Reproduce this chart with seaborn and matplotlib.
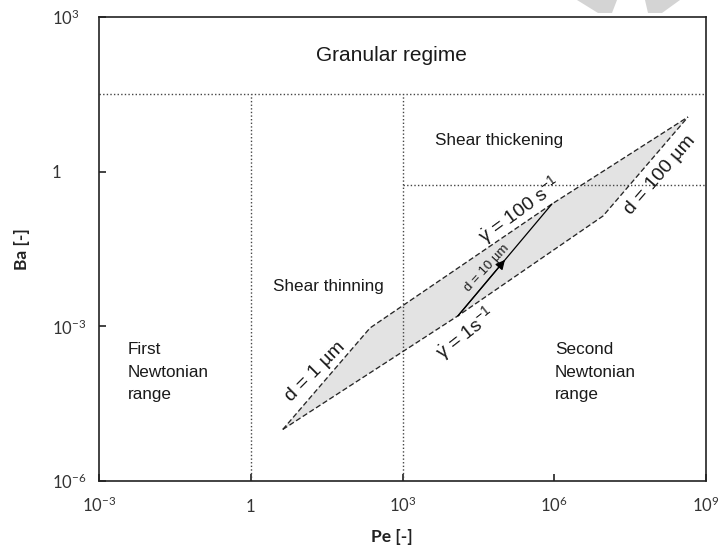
import matplotlib
matplotlib.use("Agg")
import matplotlib.pyplot as plt
from matplotlib.patches import Polygon
import numpy as np
import pandas as pd
import seaborn as sns

# ---- regime boundaries (Péclet number Pe, Bagnold number Ba) ----
pe_range = [1e-3, 1e9]
ba_range = [1e-6, 1e3]
ba_granular = 32.0          # upper limit of the suspension regimes
ba_thickening = 0.55        # onset of shear thickening
pe_first_newtonian = 1.0    # end of first Newtonian range
pe_thinning = 1e3           # end of shear thinning

# ---- process window: upper and lower envelopes ----
pe_upper = [4.3, 228.0, 9.0e5, 4.4e8]
ba_upper = [1.0e-5, 9.3e-4, 0.236, 11.5]
pe_lower = [4.3, 1.25e4, 9.2e6, 4.4e8]
ba_lower = [1.0e-5, 1.6e-3, 0.138, 11.5]

# d = 10 µm path from shear rate 1 s^-1 (lower envelope) to 100 s^-1 (upper envelope)
pe_d10 = [pe_lower[1], pe_upper[2]]
ba_d10 = [ba_lower[1], ba_upper[2]]

x_ticks = [1e-3, 1, 1e3, 1e6, 1e9]
x_tick_labels = ["10$^{-3}$", "1", "10$^{3}$", "10$^{6}$", "10$^{9}$"]
y_ticks = [1e-6, 1e-3, 1, 1e3]
y_tick_labels = ["10$^{-6}$", "10$^{-3}$", "1", "10$^{3}$"]

sns.set_theme(style="white")
plt.rcParams["font.family"] = ["Lato", "DejaVu Sans"]
plt.rcParams["mathtext.default"] = "regular"

W, H = 719, 548
fig = plt.figure(figsize=(W / 100, H / 100), dpi=100)
left, right, top, bottom = 99, 706, 17, 481
ax = fig.add_axes([left / W, 1 - bottom / H, (right - left) / W, (bottom - top) / H])
ax.set_xscale("log")
ax.set_yscale("log")
ax.set_xlim(pe_range)
ax.set_ylim(ba_range)

# shaded process window
poly_pe = pe_upper + pe_lower[::-1]
poly_ba = ba_upper + ba_lower[::-1]
ax.fill(poly_pe, poly_ba, facecolor="#e3e3e3", edgecolor="none", zorder=1)

edge_kw = dict(color="#262626", linewidth=0.95, dashes=(4, 2), estimator=None,
               sort=False, ax=ax, legend=False, zorder=3)
sns.lineplot(x=pe_upper, y=ba_upper, **edge_kw)
sns.lineplot(x=pe_lower, y=ba_lower, **edge_kw)

# regime boundaries (dotted)
dot_kw = dict(color="#444444", linewidth=1.0, linestyle=(0, (1, 1.6)), zorder=2)
ax.plot(pe_range, [ba_granular, ba_granular], **dot_kw)
ax.plot([pe_first_newtonian] * 2, [ba_range[0], ba_granular], **dot_kw)
ax.plot([pe_thinning] * 2, [ba_range[0], ba_granular], **dot_kw)
ax.plot([pe_thinning, pe_range[1]], [ba_thickening, ba_thickening], **dot_kw)

# d = 10 µm arrow with the head halfway along
ax.plot(pe_d10, ba_d10, color="black", linewidth=0.9, zorder=4)
pe_mid = np.sqrt(pe_d10[0] * pe_d10[1])
ba_mid = np.sqrt(ba_d10[0] * ba_d10[1])
ax.annotate("", xy=(pe_mid, ba_mid), xytext=(pe_d10[0], ba_d10[0]),
            arrowprops=dict(arrowstyle="-|>", color="black", lw=0.9,
                            mutation_scale=14, shrinkA=0, shrinkB=0), zorder=5)

# axes styling
for s in ax.spines.values():
    s.set_color("#222222")
    s.set_linewidth(1.2)
ax.minorticks_off()
ax.set_xticks(x_ticks)
ax.set_xticklabels(x_tick_labels)
ax.set_yticks(y_ticks)
ax.set_yticklabels(y_tick_labels)
ax.tick_params(axis="both", which="major", direction="in", length=5, width=1.2,
               colors="#222222", labelsize=12, labelcolor="#333333",
               bottom=True, left=True, top=False, right=False)
ax.tick_params(axis="x", pad=22)
ax.tick_params(axis="y", pad=34)
for lab in ax.get_xticklabels():
    lab.set_va("baseline")
for lab in ax.get_yticklabels():
    lab.set_ha("left")

ax.set_xlabel("Pe [-]", fontsize=12.5, fontweight="bold", color="#222222",
              va="center", ha="center")
ax.xaxis.set_label_coords((392 - left) / (right - left), -(537 - bottom) / (bottom - top))
ax.set_ylabel("Ba [-]", fontsize=12.5, fontweight="bold", color="#222222",
              va="center", ha="center")
ax.yaxis.set_label_coords((22 - left) / (right - left), 0.5)

# regime labels
arial = ["Liberation Sans", "DejaVu Sans"]
txt = dict(color="#1a1a1a", zorder=6)
region_kw = dict(family=arial, fontsize=12.3, ha="left", va="center", **txt)
ax.text(617, 183, "Granular regime", family=arial, fontsize=15, ha="center", va="center", **txt)
ax.text(4400, 4.1, "Shear thickening", **region_kw)
ax.text(2.75, 5.8e-3, "Shear thinning", **region_kw)
ax.text(3.7e-3, 1.3e-4, "First\nNewtonian\nrange", linespacing=1.62, **region_kw)
ax.text(1.04e6, 1.3e-4, "Second\nNewtonian\nrange", linespacing=1.62, **region_kw)

# envelope labels
rot = dict(ha="center", va="center", rotation_mode="anchor", family=arial, **txt)
ax.text(18.6, 1.3e-4, "d = 1 µm", fontsize=14, rotation=45, **rot)
ax.text(1.24e8, 0.86, "d = 100 µm", fontsize=14, rotation=49, **rot)
ax.text(2.1e5, 0.18, r"$\dot{\gamma}$ = 100 s$^{-1}$", fontsize=14, rotation=36, **rot)
ax.text(1.72e4, 7.4e-4, r"$\dot{\gamma}$ = 1s$^{-1}$", fontsize=14, rotation=38, **rot)
ax.text(4.7e4, 0.0135, "d = 10 µm", fontsize=9.5, rotation=47, **rot)

# light grey chevron in the top margin
for pts in ([(577, 0), (617, 0), (612, 13), (598, 13)],
            [(645, 0), (680, 0), (662, 13), (648, 13)]):
    fig.add_artist(Polygon([(x / W, 1 - y / H) for x, y in pts], closed=True,
                           transform=fig.transFigure, facecolor="#d4d4d4",
                           edgecolor="none"))

fig.savefig("out.png", dpi=100, facecolor="white")
